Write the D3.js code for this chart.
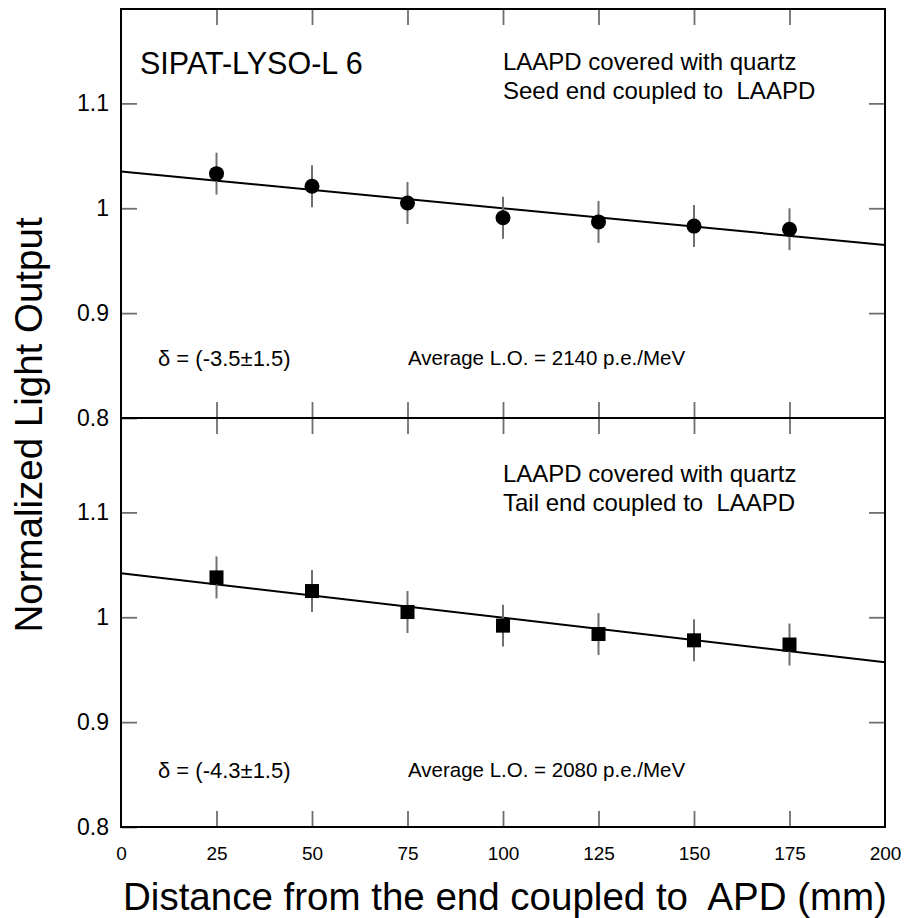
<!DOCTYPE html>
<html>
<head>
<meta charset="utf-8">
<script src="https://cdn.jsdelivr.net/npm/d3@7"></script>
<style>
  body { margin: 0; background: #fff; }
  svg { font-family: "Liberation Sans", Arial, Helvetica, sans-serif; }
  text { white-space: pre; }
  .tick line { stroke: #707070; stroke-width: 1.8px; }
  .domain { display: none; }
</style>
</head>
<body>
<div id="chart"></div>
<script>
// positions along the crystal (mm)
var positions = [25, 50, 75, 100, 125, 150, 175];

// seed end coupled to LAAPD (top panel)
var seedValues = [1.033, 1.021, 1.005, 0.991, 0.987, 0.983, 0.980];
var seedErrors = [0.02, 0.02, 0.02, 0.02, 0.02, 0.02, 0.02];
var seedFitX = [0, 200];
var seedFitY = [1.035, 0.965];

// tail end coupled to LAAPD (bottom panel)
var tailValues = [1.038, 1.025, 1.005, 0.992, 0.984, 0.978, 0.974];
var tailErrors = [0.02, 0.02, 0.02, 0.02, 0.02, 0.02, 0.02];
var tailFitX = [0, 200];
var tailFitY = [1.042, 0.957];

var xTickValues = [0, 25, 50, 75, 100, 125, 150, 175, 200];
var xInnerTicks = [25, 50, 75, 100, 125, 150, 175];
var yTickValues = [0.8, 0.9, 1.0, 1.1];
var yDomain = [0.8, 1.19];
var xDomain = [0, 200];

var W = 904, H = 918;
var margin = {top: 9, left: 121, right: 19},
    width = W - margin.left - margin.right,
    panelHeight = 409;

var svg = d3.select("#chart")
    .append("svg")
    .attr("width", W)
    .attr("height", H);

var xScale = d3.scaleLinear().domain(xDomain).range([0, width]);
var yScale = d3.scaleLinear().domain(yDomain).range([panelHeight, 0]);

var fmt = function(d) { return d === 1 ? "1" : d3.format(".1f")(d); };

function drawPanel(top, values, errors, fitX, fitY, marker, texts, showXLabels) {
    var g = svg.append("g")
        .attr("transform", "translate(" + margin.left + "," + top + ")");

    // left axis with labels
    g.append("g")
        .call(d3.axisLeft(yScale).tickValues(yTickValues)
            .tickSize(-16).tickPadding(12).tickFormat(fmt))
        .call(a => a.selectAll("text").style("font-size", "23px").attr("fill", "#000"));

    // right axis
    g.append("g")
        .attr("transform", "translate(" + width + ",0)")
        .call(d3.axisRight(yScale).tickValues([0.9, 1.0, 1.1]).tickSize(-16).tickFormat(""));

    // top edge ticks (inward)
    g.append("g")
        .call(d3.axisTop(xScale).tickValues(xInnerTicks).tickSize(-16).tickFormat(""));

    // bottom edge ticks (inward)
    var bottom = g.append("g")
        .attr("transform", "translate(0," + panelHeight + ")");
    if (showXLabels) {
        bottom.call(d3.axisBottom(xScale).tickValues(xTickValues).tickSize(-16).tickPadding(20)
                .tickFormat(d3.format("d")))
            .call(a => a.selectAll("text").style("font-size", "19px").attr("fill", "#000"))
            .call(a => a.selectAll(".tick line").filter(d => d === 0 || d === 200).remove());
    } else {
        bottom.call(d3.axisBottom(xScale).tickValues(xInnerTicks).tickSize(-16).tickFormat(""));
    }

    // frame
    g.append("rect")
        .attr("x", 0).attr("y", 0)
        .attr("width", width).attr("height", panelHeight)
        .attr("fill", "none")
        .attr("stroke", "#000")
        .attr("stroke-width", 2);

    // fit line
    g.append("path")
        .datum(fitX.map((x, i) => ({x: x, y: fitY[i]})))
        .attr("fill", "none")
        .attr("stroke", "#000")
        .attr("stroke-width", 2)
        .attr("d", d3.line().x(d => xScale(d.x)).y(d => yScale(d.y)));

    var data = positions.map((p, i) => ({x: p, y: values[i], e: errors[i]}));

    // error bars
    g.selectAll(".err")
        .data(data)
        .enter().append("line")
        .attr("class", "err")
        .attr("x1", d => xScale(d.x)).attr("x2", d => xScale(d.x))
        .attr("y1", d => yScale(d.y - d.e)).attr("y2", d => yScale(d.y + d.e))
        .attr("stroke", "#707070")
        .attr("stroke-width", 2);

    // markers
    if (marker === "circle") {
        g.selectAll(".pt")
            .data(data)
            .enter().append("circle")
            .attr("class", "pt")
            .attr("cx", d => xScale(d.x))
            .attr("cy", d => yScale(d.y))
            .attr("r", 7.5)
            .attr("fill", "#000");
    } else {
        g.selectAll(".pt")
            .data(data)
            .enter().append("rect")
            .attr("class", "pt")
            .attr("x", d => xScale(d.x) - 7)
            .attr("y", d => yScale(d.y) - 7)
            .attr("width", 14).attr("height", 14)
            .attr("fill", "#000");
    }

    texts.forEach(function(t) {
        g.append("text")
            .attr("x", t.x - margin.left)
            .attr("y", t.y - top)
            .style("font-size", t.size + "px")
            .attr("fill", "#000")
            .text(t.text);
    });
}

drawPanel(margin.top, seedValues, seedErrors, seedFitX, seedFitY, "circle", [
    {x: 140, y: 74, size: 30.5, text: "SIPAT-LYSO-L 6"},
    {x: 503, y: 70, size: 24, text: "LAAPD covered with quartz"},
    {x: 503, y: 99, size: 24, text: "Seed end coupled to  LAAPD"},
    {x: 158, y: 366, size: 22, text: "\u03b4 = (-3.5\u00b11.5)"},
    {x: 408, y: 365, size: 20.5, text: "Average L.O. = 2140 p.e./MeV"}
], false);

drawPanel(margin.top + panelHeight, tailValues, tailErrors, tailFitX, tailFitY, "square", [
    {x: 503, y: 482, size: 24, text: "LAAPD covered with quartz"},
    {x: 503, y: 511, size: 24, text: "Tail end coupled to  LAAPD"},
    {x: 158, y: 778, size: 22, text: "\u03b4 = (-4.3\u00b11.5)"},
    {x: 408, y: 777, size: 20.5, text: "Average L.O. = 2080 p.e./MeV"}
], true);

// axis titles
svg.append("text")
    .attr("text-anchor", "middle")
    .attr("transform", "translate(42,425) rotate(-90)")
    .style("font-size", "38.5px")
    .text("Normalized Light Output");

svg.append("text")
    .attr("text-anchor", "middle")
    .attr("x", 505)
    .attr("y", 910)
    .style("font-size", "38.5px")
    .text("Distance from the end coupled to  APD (mm)");
</script>
</body>
</html>
